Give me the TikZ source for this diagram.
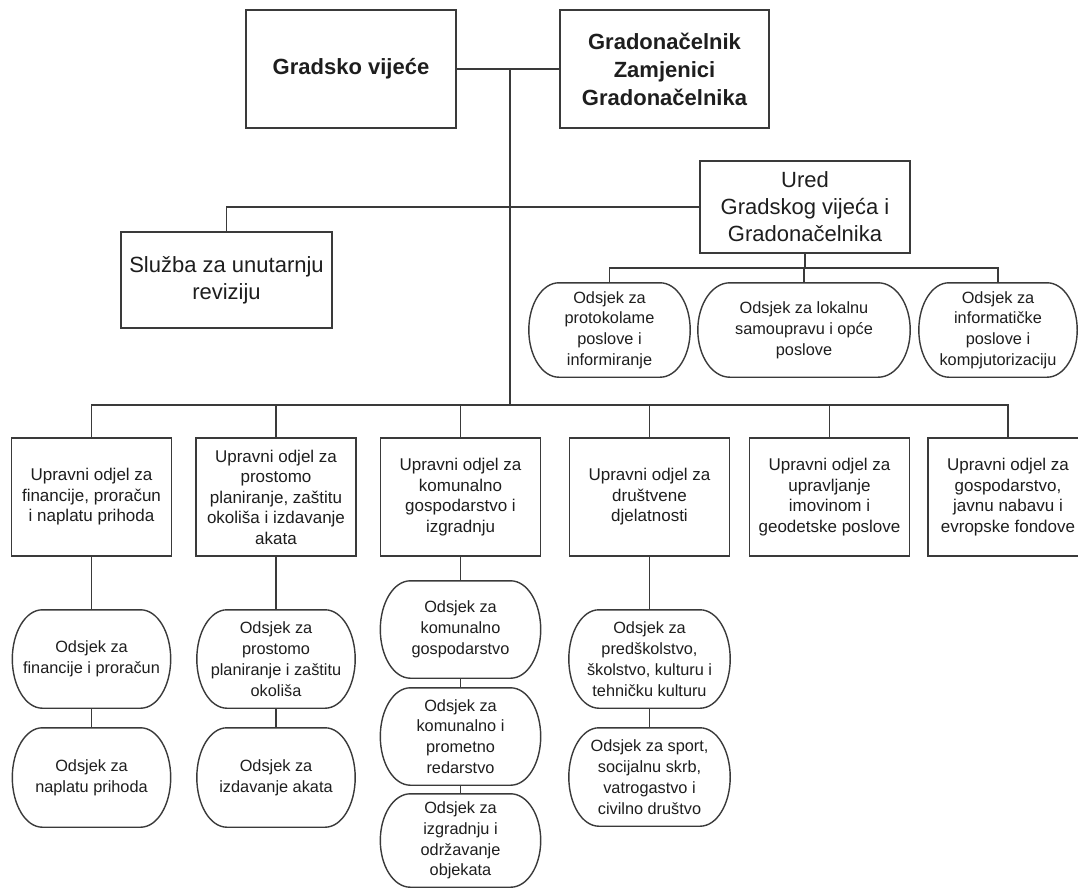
\documentclass[tikz,border=0pt]{standalone}
\usepackage{fontspec}
\setmainfont{Liberation Sans}
\usetikzlibrary{calc}
\definecolor{lc}{HTML}{3A3A3A}
\definecolor{tc}{HTML}{1E1E1E}
\newcommand\ovl[2]{%
\draw[ln] ([xshift=#2pt]#1.north west) -- ([xshift=-#2pt]#1.north east)
 .. controls ([xshift=-0.448*#2pt]#1.north east) and ($(#1.east)!0.552!(#1.north east)$) .. (#1.east)
 .. controls ($(#1.east)!0.552!(#1.south east)$) and ([xshift=-0.448*#2pt]#1.south east) .. ([xshift=-#2pt]#1.south east)
 -- ([xshift=#2pt]#1.south west)
 .. controls ([xshift=0.448*#2pt]#1.south west) and ($(#1.west)!0.552!(#1.south west)$) .. (#1.west)
 .. controls ($(#1.west)!0.552!(#1.north west)$) and ([xshift=0.448*#2pt]#1.north west) .. cycle;}
\begin{document}
\begin{tikzpicture}[x=1pt,y=-1pt,
  ln/.style={draw=lc,line width=1.4pt},
  box/.style={draw=lc,line width=1.5pt,align=center,inner sep=0pt,text=tc},
  topbox/.style={box,font=\bfseries\fontsize{22}{28}\selectfont},
  bigbox/.style={box,font=\fontsize{22}{27}\selectfont},
  deptbox/.style={box,minimum width=160pt,minimum height=118pt,font=\fontsize{17}{20.5}\selectfont},
  ovtext/.style={align=center,inner sep=0pt,text=tc,font=\fontsize{16.3}{20.8}\selectfont}]
\useasboundingbox[fill=white] (0,0) rectangle (1078,888);

% top level
\node[topbox,minimum width=210pt,minimum height=118pt] (GV) at (351,69) {Gradsko vijeće};
\node[topbox,minimum width=209pt,minimum height=118pt] (GR) at (664.5,69) {Gradonačelnik\\Zamjenici\\Gradonačelnika};
\node[bigbox,minimum width=211pt,minimum height=96pt] (S) at (226.5,280) {Služba za unutarnju\\reviziju};
\node[bigbox,minimum width=210pt,minimum height=92pt] (U) at (805,207) {Ured\\Gradskog vijeća i\\Gradonačelnika};

% Ured sections
\node[ovtext,minimum width=161pt,minimum height=94pt] (u1) at (609.5,330) {Odsjek za\\protokolame\\poslove i\\informiranje};
\node[ovtext,minimum width=212pt,minimum height=94pt] (u2) at (804,330) {Odsjek za lokalnu\\samoupravu i opće\\poslove};
\node[ovtext,minimum width=158pt,minimum height=94pt] (u3) at (998,330) {Odsjek za\\informatičke\\poslove i\\kompjutorizaciju};

% departments
\node[deptbox] (b1) at (91.5,497) {Upravni odjel za\\financije, proračun\\i naplatu prihoda};
\node[deptbox] (b2) at (276,497) {Upravni odjel za\\prostomo\\planiranje, zaštitu\\okoliša i izdavanje\\akata};
\node[deptbox] (b3) at (460.5,497) {Upravni odjel za\\komunalno\\gospodarstvo i\\izgradnju};
\node[deptbox] (b4) at (649.5,497) {Upravni odjel za\\društvene\\djelatnosti};
\node[deptbox] (b5) at (829.5,497) {Upravni odjel za\\upravljanje\\imovinom i\\geodetske poslove};
\node[deptbox] (b6) at (1008,497) {Upravni odjel za\\gospodarstvo,\\javnu nabavu i\\evropske fondove};

% sections
\node[ovtext,minimum width=158pt,minimum height=98pt] (s11) at (91.5,659) {Odsjek za\\financije i proračun};
\node[ovtext,minimum width=158pt,minimum height=99pt] (s12) at (91.5,777.5) {Odsjek za\\naplatu prihoda};
\node[ovtext,minimum width=158pt,minimum height=98pt] (s21) at (276,659) {Odsjek za\\prostomo\\planiranje i zaštitu\\okoliša};
\node[ovtext,minimum width=158pt,minimum height=99pt] (s22) at (276,777.5) {Odsjek za\\izdavanje akata};
\node[ovtext,minimum width=160pt,minimum height=97pt] (s31) at (460.5,629.5) {Odsjek za\\komunalno\\gospodarstvo};
\node[ovtext,minimum width=160pt,minimum height=97pt] (s32) at (460.5,736.5) {Odsjek za\\komunalno i\\prometno\\redarstvo};
\node[ovtext,minimum width=160pt,minimum height=93pt] (s33) at (460.5,840.5) {Odsjek za\\izgradnju i\\održavanje\\objekata};
\node[ovtext,minimum width=161pt,minimum height=98pt] (s41) at (649.5,659) {Odsjek za\\predškolstvo,\\školstvo, kulturu i\\tehničku kulturu};
\node[ovtext,minimum width=161pt,minimum height=98pt] (s42) at (649.5,777) {Odsjek za sport,\\socijalnu skrb,\\vatrogastvo i\\civilno društvo};

\ovl{u1}{30}\ovl{u2}{32}\ovl{u3}{30}
\ovl{s11}{30}\ovl{s12}{30}\ovl{s21}{30}\ovl{s22}{30}
\ovl{s31}{30}\ovl{s32}{30}\ovl{s33}{30}\ovl{s41}{30}\ovl{s42}{30}

% connectors
\coordinate (j0) at (510,69);
\coordinate (bus) at (510,405);
\coordinate (ub) at (805,268);
\draw[ln] (GV.east) -- (GR.west);
\draw[ln] (j0) -- (bus);
\draw[ln] (S.north) |- (U.west);
\draw[ln] (U.south) -- (ub);
\draw[ln] (u1.north) -- (u1.north |- ub) -- (u3.north |- ub) -- (u3.north);
\draw[ln] (u2.north) -- (u2.north |- ub);
\draw[ln] (b1.north) -- (b1.north |- bus) -- (b6.north |- bus) -- (b6.north);
\foreach \b in {b2,b3,b4,b5} \draw[ln] (\b.north) -- (\b.north |- bus);
\draw[ln] (b1.south) -- (s11.north);
\draw[ln] (s11.south) -- (s12.north);
\draw[ln] (b2.south) -- (s21.north);
\draw[ln] (s21.south) -- (s22.north);
\draw[ln] (b3.south) -- (s31.north);
\draw[ln] (s31.south) -- (s32.north);
\draw[ln] (s32.south) -- (s33.north);
\draw[ln] (b4.south) -- (s41.north);
\draw[ln] (s41.south) -- (s42.north);
\end{tikzpicture}
\end{document}
